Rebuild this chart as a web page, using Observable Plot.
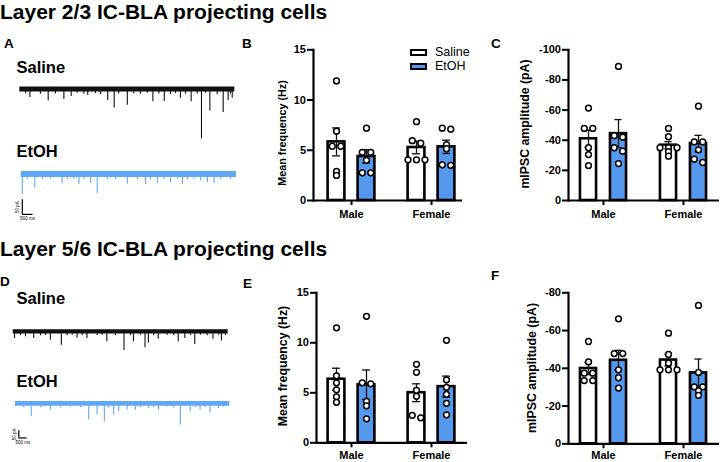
<!DOCTYPE html>
<html>
<head>
<meta charset="utf-8">
<script src="https://cdn.jsdelivr.net/npm/d3@7"></script>
<script src="https://cdn.jsdelivr.net/npm/@observablehq/plot@0.6"></script>
<style>
html,body{margin:0;padding:0;background:#fff;}
#fig{position:relative;width:720px;height:462px;overflow:hidden;background:#fff;font-family:Arial,"Liberation Sans",Helvetica,sans-serif;color:#000;}
.t{position:absolute;white-space:nowrap;line-height:1;}
.holder{position:absolute;}
.holder svg{display:block;overflow:visible;background:transparent;max-width:none;}
</style>
</head>
<body>
<div id="fig"></div>
<script>
// ---------------- data ----------------
const sexes = ["Male", "Female"];
const treatments = ["Saline", "EtOH"];
const freqTicks = [0, 5, 10, 15];
const ampTicksL23 = [0, -20, -40, -60, -80, -100];
const ampTicksL56 = [0, -20, -40, -60, -80];

// Layer 2/3: mIPSC mean frequency (Hz), one value per cell
const freqL23MaleSaline = [11.9, 6.9, 5.4, 5.4, 2.9, 2.5];
const freqL23MaleEtOH = [7.2, 4.8, 4.8, 4.0, 2.75, 2.75];
const freqL23FemaleSaline = [7.85, 5.95, 5.7, 4.05, 4.05, 4.05];
const freqL23FemaleEtOH = [7.2, 7.1, 5.55, 5.15, 3.55, 3.5];
// Layer 2/3: mIPSC amplitude (pA)
const ampL23MaleSaline = [-61.3, -47.8, -47.8, -35, -30.5, -23.2];
const ampL23MaleEtOH = [-89, -43, -42, -35, -32.7, -24.5];
const ampL23FemaleSaline = [-47.8, -42.3, -35, -35, -35, -32.4, -29.4];
const ampL23FemaleEtOH = [-62.6, -38.9, -38.9, -33.6, -27.4, -25.2];
// Layer 5/6: mIPSC mean frequency (Hz)
const freqL56MaleSaline = [11.5, 6.7, 6.0, 5.3, 4.6, 4.05];
const freqL56MaleEtOH = [12.65, 6.0, 5.9, 4.15, 3.7, 2.4];
const freqL56FemaleSaline = [7.85, 7.05, 5.25, 4.65, 2.75, 2.5];
const freqL56FemaleEtOH = [10.25, 6.3, 5.55, 4.85, 3.95, 2.8];
// Layer 5/6: mIPSC amplitude (pA)
const ampL56MaleSaline = [-54.2, -43.4, -37.4, -37.4, -33.5, -33.5];
const ampL56MaleEtOH = [-66.2, -47.8, -47.8, -39.2, -35, -29.5];
const ampL56FemaleSaline = [-58.6, -47.3, -42.7, -39.2, -39.2, -39.2];
const ampL56FemaleEtOH = [-73.3, -37.8, -30.2, -30.2, -28.1, -25.7];

// Example traces: event times (s) and peak currents (pA)
const traceL23SalineT = [0.27,0.47,0.96,1.32,1.66,2.05,2.39,2.67,2.98,3.16,3.52,3.75,4.09,4.39,4.6,5.0,5.3,5.61,5.93,6.19,6.47,6.72,7.01,7.24,7.47,7.71,7.97,8.25,8.45,8.64,8.84,9.18,9.46,9.69,9.8,9.88];
const traceL23SalineAmp = [-16,-29,-18,-41,-17,-36,-26,-15,-18,-22,-16,-19,-39,-65,-17,-56,-16,-18,-15,-44,-17,-43,-19,-16,-32,-18,-44,-17,-170,-15,-75,-19,-80,-39,-17,-32];
const traceL23EtOHT = [0.05,0.28,0.63,0.98,1.36,1.9,2.14,2.45,2.68,2.91,3.22,3.53,4.0,4.39,4.93,5.4,5.78,6.01,6.33,6.63,6.94,7.26,7.49,7.72,8.03,8.34,8.65,8.96,9.27,9.74];
const traceL23EtOHAmp = [-69,-18,-47,-20,-17,-34,-19,-18,-35,-20,-33,-67,-19,-21,-35,-18,-37,-20,-33,-19,-30,-18,-35,-20,-17,-24,-30,-33,-19,-18];
const traceL56SalineT = [0.08,0.44,0.74,1.24,1.65,1.95,2.25,2.91,3.26,3.57,3.86,4.17,4.46,5.08,5.38,5.66,6.18,6.7,7.09,7.27,7.69,7.97,8.17,8.5,8.77,9.31,9.71,9.98,10.38,10.72,10.98,11.32,11.73,12.08,12.43,12.59,12.84];
const traceL56SalineAmp = [-48,-28,-37,-48,-30,-27,-60,-94,-29,-26,-46,-30,-48,-28,-27,-71,-30,-130,-28,-71,-26,-112,-80,-29,-53,-27,-30,-71,-48,-28,-89,-27,-29,-53,-26,-66,-28];
const traceL56EtOHT = [0.5,0.95,1.52,2.12,2.73,3.33,3.94,4.44,4.95,5.39,5.65,5.96,6.26,6.77,7.27,7.58,8.08,8.38,8.68,9.19,9.6,10.0,10.6,10.9,11.2,11.5,11.8,12.3,12.62];
const traceL56EtOHAmp = [-30,-92,-28,-46,-30,-27,-29,-114,-80,-128,-30,-80,-57,-46,-46,-28,-34,-30,-46,-27,-29,-149,-57,-28,-46,-30,-66,-34,-27];
const scaleBarMs = 500;
const scaleBarPA = 50;

// ---------------- helpers ----------------
const FONT = "Arial, 'Liberation Sans', Helvetica, sans-serif";
const BLUE = "#5599ee";
const TRACE_BLUE = "#5ea8f4";
const fig = document.getElementById("fig");

function txt(s, left, top, size, weight = "bold", extra = "") {
  const d = document.createElement("div");
  d.className = "t";
  d.textContent = s;
  d.style.cssText += `left:${left}px;top:${top}px;font-size:${size}px;font-weight:${weight};${extra}`;
  fig.appendChild(d);
  return d;
}
function vlabel(s, cx, cy, size) {
  txt(s, cx, cy, size, "bold", "transform:translate(-50%,-50%) rotate(-90deg);");
}
function put(svg, left, top) {
  const h = document.createElement("div");
  h.className = "holder";
  h.style.left = left + "px";
  h.style.top = top + "px";
  h.style.width = svg.getAttribute("width") + "px";
  h.appendChild(svg);
  fig.appendChild(h);
}
function groupsOf(ms, me, fs, fe) {
  return [
    {sex: "Male", treatment: "Saline", values: ms},
    {sex: "Male", treatment: "EtOH", values: me},
    {sex: "Female", treatment: "Saline", values: fs},
    {sex: "Female", treatment: "EtOH", values: fe}
  ];
}

function barPanel(cfg) {
  const {groups, yDomain, yTicks, left, top, width, height, mt, mb, ml, mr, centers, xPad = 5} = cfg;
  const pxPerUnit = (height - mt - mb) / Math.abs(yDomain[1] - yDomain[0]);
  const stats = groups.map(g => {
    const mean = d3.mean(g.values);
    const sem = d3.deviation(g.values) / Math.sqrt(g.values.length);
    return {sex: g.sex, treatment: g.treatment, mean, lo: mean - sem, hi: mean + sem};
  });
  const dots = [];
  for (const g of groups) {
    const side = g.treatment === "Saline" ? -1 : 1;
    const sorted = [...g.values].sort((a, b) => Math.abs(b) - Math.abs(a));
    const rows = [];
    for (const v of sorted) {
      const row = rows[rows.length - 1];
      if (row && Math.abs(v - row[0]) * pxPerUnit < 3.5) row.push(v); else rows.push([v]);
    }
    for (const row of rows) row.forEach((v, i) => dots.push({sex: g.sex, value: v, dx: side * 15 + (i - (row.length - 1) / 2) * 8.5}));
  }
  const [c1, c2] = centers;
  const span = c2 - c1;
  const bw = 0.7 * span;
  const barW = 16.8, capW = 8;
  const marks = [];
  for (const tr of treatments) {
    const side = tr === "Saline" ? -1 : 1;
    const st = stats.filter(s => s.treatment === tr);
    marks.push(Plot.barY(st, {x: "sex", y: "mean", dx: side * 15, insetLeft: (bw - barW) / 2, insetRight: (bw - barW) / 2,
      fill: tr === "Saline" ? "#fff" : BLUE, stroke: "#000", strokeWidth: 2.6}));
  }
  for (const tr of treatments) {
    const side = tr === "Saline" ? -1 : 1;
    const st = stats.filter(s => s.treatment === tr);
    marks.push(
      Plot.ruleX(st, {x: "sex", y1: "lo", y2: "hi", dx: side * 15, stroke: "#111", strokeWidth: 1.3}),
      Plot.tickY(st, {x: "sex", y: "hi", dx: side * 15, insetLeft: (bw - capW) / 2, insetRight: (bw - capW) / 2, stroke: "#111", strokeWidth: 1.3}),
      Plot.tickY(st, {x: "sex", y: "lo", dx: side * 15, insetLeft: (bw - capW) / 2, insetRight: (bw - capW) / 2, stroke: "#111", strokeWidth: 1.3})
    );
  }
  for (const [dx, pts] of d3.group(dots, d => d.dx)) {
    marks.push(Plot.dot(pts, {x: "sex", y: "value", dx, r: 2.9, fill: "#fff", stroke: "#000", strokeWidth: 1.5}));
  }
  marks.push(
    Plot.ruleY([0], {strokeWidth: 2.2}),
    Plot.frame({anchor: "left", strokeWidth: 2.2}),
    Plot.axisY({ticks: yTicks, tickFormat: d => String(d), tickSize: 6, tickPadding: 1.5, strokeWidth: 2, label: null, fontSize: 11, fontWeight: "bold"}),
    Plot.axisX({tickSize: 5, tickPadding: xPad, strokeWidth: 2, label: null, fontSize: 11, fontWeight: "bold"})
  );
  const svg = Plot.plot({
    width, height, marginTop: mt, marginBottom: mb, marginLeft: ml, marginRight: mr,
    x: {domain: sexes, range: [c1 - 0.45 * span, c2 + 0.45 * span], paddingInner: 0.3, paddingOuter: 0.1, label: null},
    y: {domain: yDomain, label: null},
    style: {fontFamily: FONT, fontSize: "11px", fontWeight: "bold", background: "transparent", overflow: "visible", color: "#000"},
    marks
  });
  put(svg, left, top);
}

function tracePlot(cfg) {
  const {t, amp, dur, color, band, pxPerPA, yMin, yMax, x0, x1, baseY, bar} = cfg;
  const events = t.map((tt, i) => ({t: tt, amp: amp[i]}));
  const height = (yMax - yMin) * pxPerPA;
  const marks = [
    Plot.ruleX(events, {x: "t", y1: 0, y2: "amp", stroke: color, strokeWidth: 1.1}),
    Plot.ruleY([0], {stroke: color, strokeWidth: band})
  ];
  if (bar) {
    const topv = d3.min(amp) - 5.5 / pxPerPA;
    const sb = {t0: bar.t0, t1: bar.t0 + scaleBarMs / 1000, top: topv, bottom: topv - scaleBarPA};
    marks.push(
      Plot.ruleX([sb], {x: "t0", y1: "top", y2: "bottom", stroke: "#000", strokeWidth: 1.2}),
      Plot.ruleY([sb], {y: "bottom", x1: "t0", x2: "t1", stroke: "#000", strokeWidth: 1.2}),
      Plot.text([sb], {x: "t0", y: d => (d.top + d.bottom) / 2, text: () => `${scaleBarPA} pA`, rotate: -90, dx: -4.5, fontSize: 4.5}),
      Plot.text([sb], {x: d => (d.t0 + d.t1) / 2, y: "bottom", text: () => `${scaleBarMs} ms`, dy: 4.5, fontSize: 4.5})
    );
  }
  const svg = Plot.plot({
    width: 240, height, marginTop: 0, marginBottom: 0, marginLeft: x0, marginRight: 240 - x1,
    x: {domain: [0, dur], axis: null},
    y: {domain: [yMin, yMax], axis: null},
    style: {fontFamily: FONT, fontSize: "5px", fontWeight: "normal", background: "transparent", overflow: "visible", color: "#000"},
    marks
  });
  put(svg, 0, baseY - yMax * pxPerPA);
}

// ---------------- text ----------------
txt("Layer 2/3 IC-BLA projecting cells", 0, 1, 21);
txt("Layer 5/6 IC-BLA projecting cells", 0, 238, 21);
txt("A", 4, 36.7, 13.5);
txt("B", 242, 36.7, 13.5);
txt("C", 491, 36.7, 13.5);
txt("D", 0, 274.9, 13.5);
txt("E", 243, 276.5, 13.5);
txt("F", 491, 268.9, 13.5);
txt("Saline", 16.5, 58.5, 16.5);
txt("EtOH", 16.5, 142.8, 16.5);
txt("Saline", 16.5, 289.5, 16.5);
txt("EtOH", 16.5, 372.8, 16.5);

// ---------------- traces ----------------
tracePlot({t: traceL23SalineT, amp: traceL23SalineAmp, dur: 10, color: "#111", band: 5, pxPerPA: 0.294, yMin: -180, yMax: 15, x0: 19.3, x1: 234.3, baseY: 88.5});
tracePlot({t: traceL23EtOHT, amp: traceL23EtOHAmp, dur: 10, color: TRACE_BLUE, band: 6, pxPerPA: 0.294, yMin: -150, yMax: 15, x0: 20.7, x1: 236, baseY: 173, bar: {t0: 0.05}});
tracePlot({t: traceL56SalineT, amp: traceL56SalineAmp, dur: 13, color: "#111", band: 4.3, pxPerPA: 0.146, yMin: -150, yMax: 20, x0: 12.7, x1: 227.7, baseY: 331.3});
tracePlot({t: traceL56EtOHT, amp: traceL56EtOHAmp, dur: 13, color: TRACE_BLUE, band: 4.7, pxPerPA: 0.146, yMin: -250, yMax: 20, x0: 15, x1: 229.3, baseY: 403.3, bar: {t0: 0.2}});

// ---------------- bar panels ----------------
barPanel({groups: groupsOf(freqL23MaleSaline, freqL23MaleEtOH, freqL23FemaleSaline, freqL23FemaleEtOH),
  yDomain: [0, 15], yTicks: freqTicks, left: 240, top: 40, width: 230, height: 190, mt: 9.3, mb: 30, ml: 73, mr: 8, centers: [110.5, 190.5]});
barPanel({groups: groupsOf(ampL23MaleSaline, ampL23MaleEtOH, ampL23FemaleSaline, ampL23FemaleEtOH),
  yDomain: [0, -100], yTicks: ampTicksL23, left: 480, top: 40, width: 240, height: 190, mt: 9.3, mb: 30, ml: 88, mr: 1, centers: [123, 204]});
barPanel({groups: groupsOf(freqL56MaleSaline, freqL56MaleEtOH, freqL56FemaleSaline, freqL56FemaleEtOH),
  yDomain: [0, 15], yTicks: freqTicks, left: 240, top: 282, width: 230, height: 190, mt: 10.3, mb: 29.7, ml: 76, mr: 3, centers: [110.5, 190.5], xPad: 3});
barPanel({groups: groupsOf(ampL56MaleSaline, ampL56MaleEtOH, ampL56FemaleSaline, ampL56FemaleEtOH),
  yDomain: [0, -80], yTicks: ampTicksL56, left: 480, top: 282, width: 240, height: 190, mt: 10.3, mb: 28.7, ml: 88, mr: 1, centers: [123, 204], xPad: 2.5});

// axis titles
vlabel("Mean frequency (Hz)", 281.7, 133, 10.8);
vlabel("mIPSC amplitude (pA)", 524.5, 123.5, 12.3);
vlabel("Mean frequency (Hz)", 283.3, 366, 12.3);
vlabel("mIPSC amplitude (pA)", 531.7, 367.5, 12.4);

// legend (panel B)
function legendBox(left, top, fill) {
  const d = document.createElement("div");
  d.style.cssText = `position:absolute;left:${left}px;top:${top}px;width:12.7px;height:3px;border:2px solid #000;background:${fill};`;
  fig.appendChild(d);
}
legendBox(410, 49.3, "#fff");
legendBox(410, 62.9, BLUE);
txt(treatments[0], 435, 46.4, 12.5, "normal");
txt(treatments[1], 435, 59.6, 12.5, "normal");
</script>
</body>
</html>
